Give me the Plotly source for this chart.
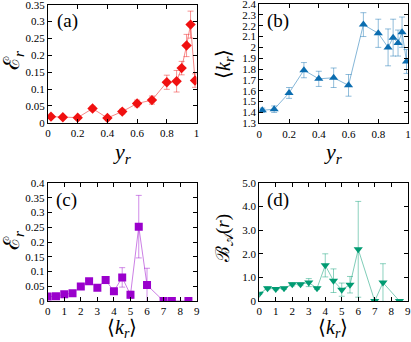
import plotly.graph_objects as go

# Panel (a): E_r vs y_r
ya_x = [0.02, 0.1, 0.2, 0.3, 0.4, 0.5, 0.6, 0.7, 0.8, 0.866, 0.9, 0.933, 0.96, 0.99]
ya_y = [0.018, 0.016, 0.015, 0.042, 0.014, 0.033, 0.057, 0.067, 0.12, 0.123, 0.162, 0.229, 0.291, 0.125]
ya_e = [0.004, 0.003, 0.003, 0.007, 0.003, 0.007, 0.010, 0.012, 0.021, 0.032, 0.020, 0.033, 0.040, 0.020]

# Panel (b): <k_r> vs y_r
yb_y = [1.42, 1.43, 1.58, 1.79, 1.71, 1.72, 1.65, 2.21, 2.13, 2.00, 2.09, 2.04, 2.14, 1.87]
yb_e = [0.02, 0.03, 0.05, 0.07, 0.07, 0.09, 0.10, 0.11, 0.13, 0.17, 0.17, 0.12, 0.14, 0.11]

# Panel (c): E_r vs <k_r>
kc_x = [0, 0.5, 1, 1.5, 2, 2.5, 3, 3.5, 4, 4.5, 5, 5.5, 6, 7, 7.5, 8.5]
kc_y = [0.015, 0.016, 0.023, 0.026, 0.049, 0.067, 0.045, 0.071, 0.033, 0.080, 0.021, 0.252, 0.054, 0.0, 0.0, 0.0]
kc_e = [0.002, 0.002, 0.003, 0.003, 0.004, 0.005, 0.005, 0.012, 0.004, 0.033, 0.012, 0.106, 0.057, 0.0, 0.0, 0.0]

# Panel (d): B_A(r) vs <k_r>
kd_y = [0.31, 0.54, 0.51, 0.54, 0.71, 0.71, 0.78, 0.54, 1.51, 0.86, 0.48, 0.69, 2.19, 0.0, 0.78, 0.0]
kd_e = [0.03, 0.06, 0.04, 0.05, 0.07, 0.06, 0.17, 0.05, 0.49, 0.50, 0.28, 0.35, 2.03, 0.0, 0.80, 0.0]

a_tickvals = [0, 0.05, 0.1, 0.15, 0.2, 0.25, 0.3, 0.35]
a_ticktext = ["0", "0.05", "0.1", "0.15", "0.2", "0.25", "0.3", "0.35"]
d_tickvals = [0, 1, 2, 3, 4, 5]
d_ticktext = ["0", "1.0", "2.0", "3.0", "4.0", "5.0"]

FONT = "Liberation Serif"

def rgba(h, a):
    h = h.lstrip("#")
    return "rgba(%d,%d,%d,%s)" % (int(h[0:2], 16), int(h[2:4], 16), int(h[4:6], 16), a)

fig = go.Figure()

def add(x, y, e, col, sym, size, xa, ya):
    fig.add_trace(go.Scatter(
        x=x, y=y, mode="lines+markers",
        line=dict(color=rgba(col, 0.5), width=1),
        marker=dict(color=col, symbol=sym, size=size),
        error_y=dict(type="data", array=e, color=rgba(col, 0.45), thickness=1, width=3),
        xaxis=xa, yaxis=ya, showlegend=False, hoverinfo="skip"))

add(ya_x, ya_y, ya_e, "#f01010", "diamond", 8, "x", "y")
add(ya_x, yb_y, yb_e, "#0b6db0", "triangle-up", 8, "x2", "y2")
add(kc_x, kc_y, kc_e, "#9a00cc", "square", 8, "x3", "y3")
add(kc_x, kd_y, kd_e, "#009b72", "triangle-down", 8, "x4", "y4")

W, H = 411, 342
def dx(a, b):
    return [a / W, b / W]
def dy(top, bot):
    return [1 - bot / H, 1 - top / H]

axcommon = dict(showgrid=False, zeroline=False, showline=True, linecolor="black",
                linewidth=1, mirror="ticks", ticks="inside", ticklen=4, automargin=False,
                ticklabeloverflow="allow",
                tickcolor="black", tickfont=dict(family=FONT, size=11, color="black"))

fig.update_layout(
    width=W, height=H, margin=dict(l=0, r=0, t=0, b=0, autoexpand=False),
    paper_bgcolor="white", plot_bgcolor="white",
    font=dict(family=FONT, color="black"),
    xaxis=dict(domain=dx(48, 196.5), anchor="y", range=[0, 1], dtick=0.2, **axcommon),
    yaxis=dict(domain=dy(4.7, 122.7), anchor="x", range=[0, 0.3501], tickvals=a_tickvals,
               ticktext=a_ticktext, **axcommon),
    xaxis2=dict(domain=dx(259.3, 408), anchor="y2", range=[0, 1], dtick=0.2, **axcommon),
    yaxis2=dict(domain=dy(4, 123.3), anchor="x2", range=[1.3, 2.4001], dtick=0.1, **axcommon),
    xaxis3=dict(domain=dx(47.7, 196.7), anchor="y3", range=[0, 9], dtick=1, **axcommon),
    yaxis3=dict(domain=dy(183, 301), anchor="x3", range=[0, 0.4], dtick=0.05, **axcommon),
    xaxis4=dict(domain=dx(259.3, 407.7), anchor="y4", range=[0, 9], dtick=1, **axcommon),
    yaxis4=dict(domain=dy(183, 301), anchor="x4", range=[0, 5], tickvals=d_tickvals,
                ticktext=d_ticktext, **axcommon),
)

ann = []
def label(text, x, y, size, rot=0):
    ann.append(dict(text=text, x=x / W, y=1 - y / H, xref="paper", yref="paper",
                    showarrow=False, textangle=rot, xanchor="center", yanchor="middle",
                    font=dict(family=FONT, size=size, color="black")))

Er = "ℰ<sub><i>r</i></sub>"
kr = "⟨<i>k</i><sub><i>r</i></sub>⟩"
yr = "<i>y</i><sub><i>r</i></sub>"
BA = "ℬ<sub>𝒜</sub>(<i>r</i>)"

label(Er, 13, 60, 22, -90)
label(yr, 122, 153, 22)
label(kr, 224, 64, 20, -90)
label(yr, 333, 153, 22)
label(Er, 13, 240, 22, -90)
label(kr, 122, 328, 20)
label(BA, 224, 238, 19, -90)
label(kr, 333, 328, 20)

label("(a)", 67, 21, 19)
label("(b)", 278, 21, 19)
label("(c)", 66, 200, 19)
label("(d)", 278, 200, 19)

fig.update_layout(annotations=ann)
fig.write_html("out.html", config={"displayModeBar": False},
               post_script="document.body.style.margin='0';document.body.style.padding='0';")
